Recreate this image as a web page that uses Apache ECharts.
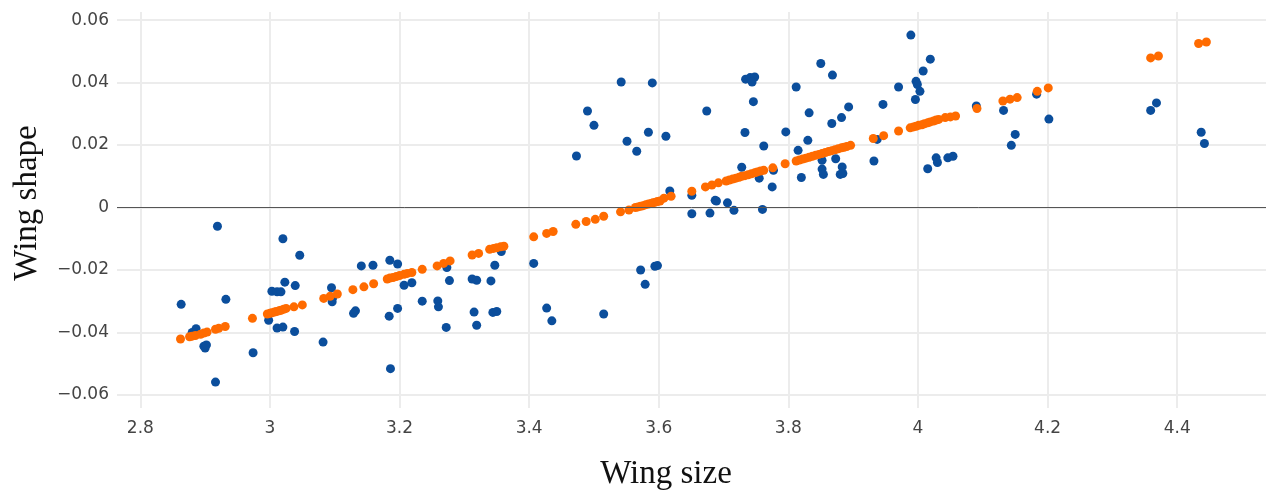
<!DOCTYPE html>
<html>
<head>
<meta charset="utf-8">
<script src="https://cdn.jsdelivr.net/npm/echarts@6/dist/echarts.min.js"></script>
<style>
html,body{margin:0;padding:0;background:#fff;}
#chart{width:1266px;height:494px;}
</style>
</head>
<body>
<div id="chart"></div>
<script>
// Observed points (Wing size, Wing shape)
const blueX = [2.919,3.020,3.046,3.141,3.159,3.185,3.197,3.023,3.039,3.003,3.011,3.017,2.863,2.932,3.095,3.097,3.096,3.132,3.129,3.207,3.197,3.184,2.998,3.011,3.020,3.038,2.886,2.880,2.898,2.900,2.902,2.974,3.082,2.916,3.186,
3.542,3.590,3.490,3.500,3.584,3.551,3.566,3.473,3.273,3.347,3.357,3.407,3.572,3.594,3.598,3.579,3.219,3.277,3.312,3.319,3.341,3.235,3.259,3.260,3.315,3.344,3.350,3.272,3.319,3.427,3.435,3.515,
3.611,3.617,3.651,3.651,3.679,3.674,3.687,3.689,3.706,3.716,3.734,3.741,3.748,3.744,3.746,3.733,3.728,3.762,3.755,3.777,3.775,3.760,3.796,3.812,3.850,3.868,3.832,3.830,3.815,3.820,3.852,3.852,3.854,3.867,3.882,3.893,3.873,3.883,3.880,3.884,3.932,3.946,3.970,3.937,
3.989,4.019,4.008,3.997,3.999,4.003,3.996,4.015,4.028,4.030,4.046,4.054,4.090,4.132,4.150,4.144,4.183,4.202,4.359,4.368,4.437,4.442];
const blueY = [-0.0060,-0.0100,-0.0153,-0.0187,-0.0185,-0.0169,-0.0181,-0.0239,-0.0250,-0.0268,-0.0270,-0.0270,-0.0310,-0.0294,-0.0257,-0.0288,-0.0302,-0.0331,-0.0339,-0.0249,-0.0323,-0.0348,-0.0361,-0.0386,-0.0383,-0.0397,-0.0388,-0.0400,-0.0444,-0.0450,-0.0440,-0.0465,-0.0431,-0.0559,-0.0516,
0.0402,0.0399,0.0309,0.0263,0.0241,0.0212,0.0180,0.0165,-0.0192,-0.0185,-0.0141,-0.0179,-0.0200,-0.0188,-0.0186,-0.0246,-0.0241,-0.0234,-0.0229,-0.0233,-0.0235,-0.0300,-0.0299,-0.0318,-0.0335,-0.0336,-0.0333,-0.0384,-0.0377,-0.0322,-0.0363,-0.0341,
0.0228,0.0053,0.0039,-0.0020,-0.0018,0.0309,0.0023,0.0021,0.0015,-0.0009,0.0411,0.0416,0.0418,0.0402,0.0339,0.0240,0.0129,0.0197,0.0094,0.0119,0.0066,-0.0006,0.0242,0.0386,0.0461,0.0424,0.0303,0.0215,0.0183,0.0096,0.0151,0.0123,0.0106,0.0269,0.0288,0.0322,0.0156,0.0130,0.0106,0.0109,0.0149,0.0330,0.0386,0.0218,
0.0552,0.0475,0.0437,0.0404,0.0394,0.0372,0.0346,0.0124,0.0159,0.0144,0.0159,0.0164,0.0325,0.0311,0.0234,0.0199,0.0363,0.0283,0.0311,0.0335,0.0241,0.0205];

// Fitted points (orange)
const fitX = [2.862,2.876,2.880,2.885,2.893,2.898,2.903,2.916,2.921,2.931,2.973,2.996,3.000,3.003,3.007,3.010,3.014,3.017,3.021,3.025,3.037,3.050,3.083,3.093,3.104,3.128,3.145,3.160,3.181,3.185,3.190,3.195,3.200,3.207,3.212,3.219,3.235,3.258,3.268,3.278,3.312,3.322,3.339,3.345,3.350,3.356,3.361,3.407,3.427,3.437,3.472,3.488,3.502,3.515,3.541,3.554,
3.564,3.568,3.572,3.576,3.580,3.584,3.588,3.591,3.595,3.598,3.602,3.608,3.619,3.651,3.672,3.682,3.692,3.704,3.709,3.714,3.719,3.724,3.728,3.733,3.738,3.743,3.748,3.752,3.757,3.762,3.776,3.795,
3.812,3.817,3.822,3.827,3.832,3.837,3.842,3.847,3.852,3.857,3.862,3.867,3.872,3.877,3.882,3.886,3.890,3.896,3.931,3.947,3.970,
3.988,3.993,3.997,4.001,4.006,4.010,4.015,4.019,4.024,4.028,4.032,4.042,4.050,4.058,4.091,4.131,4.142,4.153,4.184,4.201,4.359,4.371,4.433,4.445];
const fitY = [-0.0421,-0.0414,-0.0412,-0.0410,-0.0406,-0.0402,-0.0399,-0.0390,-0.0387,-0.0381,-0.0355,-0.0341,-0.0339,-0.0337,-0.0335,-0.0333,-0.0331,-0.0329,-0.0326,-0.0323,-0.0318,-0.0312,-0.0291,-0.0284,-0.0277,-0.0263,-0.0254,-0.0244,-0.0229,-0.0226,-0.0224,-0.0221,-0.0218,-0.0214,-0.0211,-0.0208,-0.0198,-0.0187,-0.0179,-0.0171,-0.0152,-0.0147,-0.0134,-0.0131,-0.0129,-0.0126,-0.0124,-0.0094,-0.0083,-0.0077,-0.0054,-0.0045,-0.0038,-0.0028,-0.0014,-0.0008,
0.0000,0.0002,0.0004,0.0006,0.0009,0.0011,0.0013,0.0015,0.0017,0.0019,0.0021,0.0030,0.0036,0.0052,0.0066,0.0072,0.0079,0.0085,0.0088,0.0091,0.0094,0.0097,0.0100,0.0102,0.0105,0.0108,0.0111,0.0114,0.0117,0.0119,0.0127,0.0140,
0.0149,0.0152,0.0155,0.0158,0.0161,0.0164,0.0167,0.0170,0.0173,0.0176,0.0179,0.0182,0.0185,0.0188,0.0191,0.0193,0.0195,0.0199,0.0221,0.0230,0.0245,
0.0255,0.0258,0.0260,0.0263,0.0265,0.0268,0.0271,0.0274,0.0277,0.0280,0.0282,0.0288,0.0290,0.0293,0.0317,0.0341,0.0347,0.0352,0.0372,0.0383,0.0479,0.0485,0.0525,0.0530];

const xTitle = 'Wing size';
const yTitle = 'Wing shape';

const blueData = blueX.map((x, i) => [x, blueY[i]]);
const fitData = fitX.map((x, i) => [x, fitY[i]]);

const chart = echarts.init(document.getElementById('chart'));
const labelStyle = { color: '#444', fontSize: 17, fontFamily: 'DejaVu Sans' };
chart.setOption({
  animation: false,
  backgroundColor: '#fff',
  grid: { left: 117, right: 0, top: 12, bottom: 86, containLabel: false },
  xAxis: {
    type: 'value', min: 2.764, max: 4.537, splitNumber: 9,
    axisLine: { show: false, onZero: false }, axisTick: { show: false },
    axisLabel: Object.assign({}, labelStyle, {
      margin: 12, showMinLabel: false, showMaxLabel: false,
      formatter: v => { const r = Math.round(v / 0.2); if (Math.abs(v / 0.2 - r) > 1e-6) return ''; return String(parseFloat((r * 0.2).toFixed(1))); }
    }),
    splitLine: { show: true, showMinLine: false, showMaxLine: false, lineStyle: { color: '#ececec', width: 2 } }
  },
  yAxis: {
    type: 'value', min: -0.0642, max: 0.0626, splitNumber: 6,
    axisLine: { show: false }, axisTick: { show: false },
    axisLabel: Object.assign({}, labelStyle, {
      margin: 8, showMinLabel: false, showMaxLabel: false,
      formatter: v => { const r = Math.round(v / 0.02); if (Math.abs(v / 0.02 - r) > 1e-6) return ''; if (r === 0) return '0'; const s = (Math.abs(r) * 0.02).toFixed(2); return (r < 0 ? '\u2212' : '') + s; }
    }),
    splitLine: { show: true, showMinLine: false, showMaxLine: false, lineStyle: { color: '#ececec', width: 2 } }
  },
  graphic: [
    { type: 'text', x: 666, y: 474, style: { text: xTitle, font: '33px "Liberation Serif"', fill: '#111', textAlign: 'center', textVerticalAlign: 'middle' } },
    { type: 'text', x: 27, y: 203, rotation: Math.PI / 2, style: { text: yTitle, font: '33px "Liberation Serif"', fill: '#111', textAlign: 'center', textVerticalAlign: 'middle' } }
  ],
  series: [
    {
      type: 'scatter', data: blueData, symbolSize: 9,
      itemStyle: { color: '#0b4e9c', opacity: 1 },
      markLine: { silent: true, symbol: 'none', label: { show: false }, lineStyle: { color: '#555', width: 1, type: 'solid' }, data: [{ yAxis: 0 }] },
      z: 2
    },
    {
      type: 'scatter', data: fitData, symbolSize: 9,
      itemStyle: { color: '#ff6b00', opacity: 1 },
      z: 3
    }
  ]
});
</script>
</body>
</html>
